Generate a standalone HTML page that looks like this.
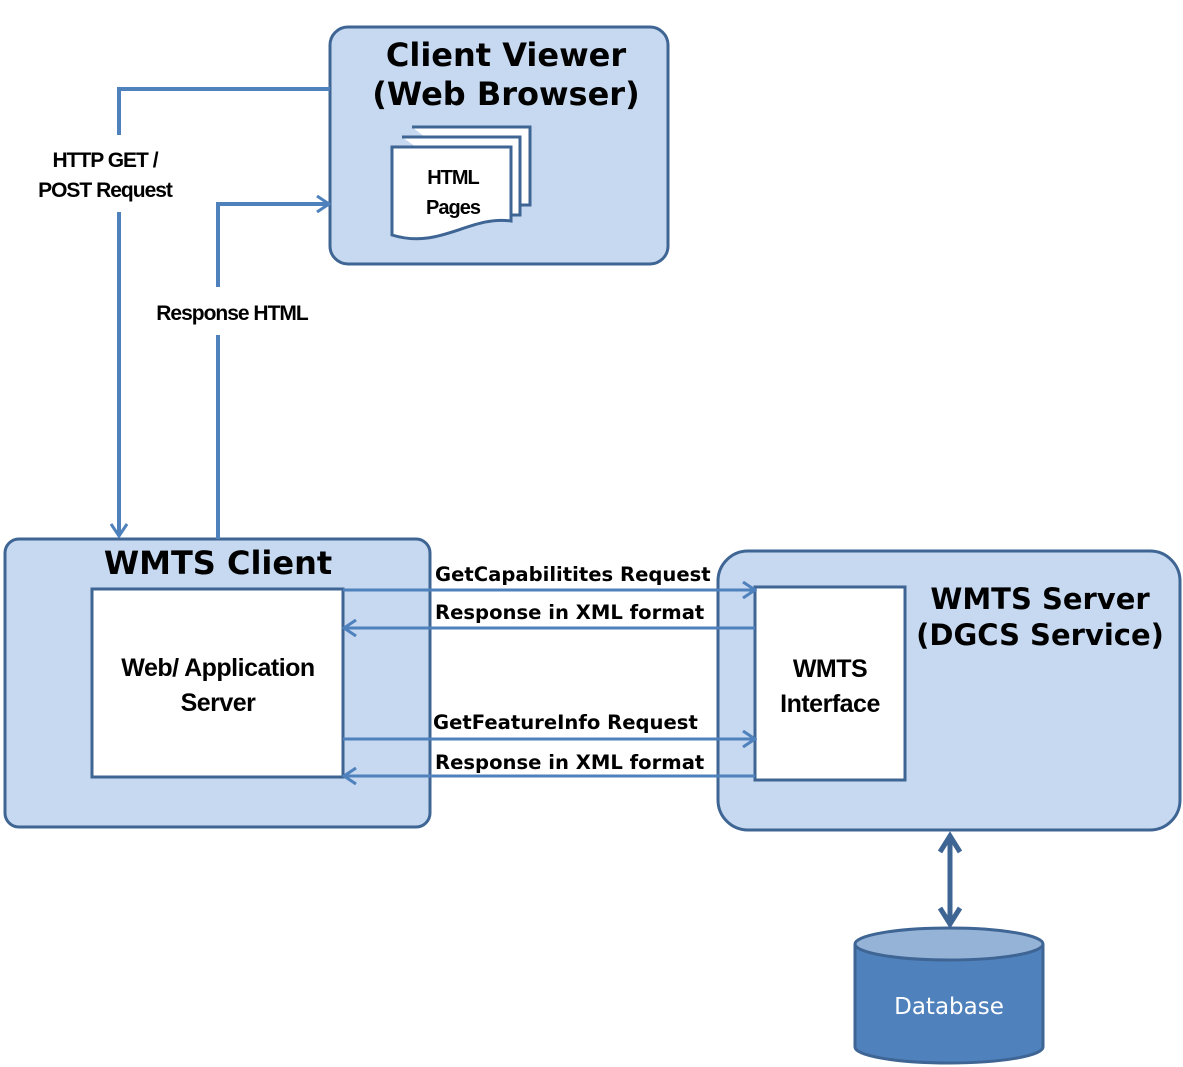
<!DOCTYPE html>
<html><head><style>body{margin:0;background:#fff}svg{display:block}</style></head><body>
<svg width="1183" height="1067" viewBox="0 0 1183 1067" xmlns="http://www.w3.org/2000/svg" font-family="'DejaVu Sans', Verdana, sans-serif">
<defs>
<marker id="a" markerWidth="16" markerHeight="18" refX="14" refY="9" orient="auto" markerUnits="userSpaceOnUse"><path d="M2,1 L14,9 L2,17" fill="none" stroke="#4f81bd" stroke-width="3"/></marker>
</defs>
<!-- boxes -->
<rect x="330" y="27" width="338" height="237" rx="18" fill="#c6d9f0" stroke="#3e6594" stroke-width="3"/>
<rect x="5" y="539" width="425" height="288" rx="14" fill="#c6d9f0" stroke="#3e6594" stroke-width="3"/>
<rect x="92" y="589" width="251" height="188" fill="#fff" stroke="#3e6594" stroke-width="3"/>
<rect x="718" y="551" width="462" height="279" rx="30" fill="#c6d9f0" stroke="#3e6594" stroke-width="3"/>
<rect x="755" y="587" width="150" height="193" fill="#fff" stroke="#3e6594" stroke-width="3"/>
<!-- html pages -->
<path d="M412,127 H530 V205 H512" fill="#fff" stroke="#3e6594" stroke-width="3"/>
<path d="M402,137 H520 V215 H512" fill="#fff" stroke="#3e6594" stroke-width="3"/>
<path d="M392,147 H511 V221 C470,215 440,250 392,235 Z" fill="#fff" stroke="#3e6594" stroke-width="3"/>
<text x="453" y="184" font-size="20" font-weight="bold" text-anchor="middle" font-family="'Liberation Sans',sans-serif" letter-spacing="-1">HTML</text>
<text x="453" y="214" font-size="20" font-weight="bold" text-anchor="middle" font-family="'Liberation Sans',sans-serif" letter-spacing="-1">Pages</text>
<!-- titles -->
<text x="506" y="66" font-size="32" font-weight="bold" text-anchor="middle">Client Viewer</text>
<text x="506" y="105" font-size="32" font-weight="bold" text-anchor="middle">(Web Browser)</text>
<text x="218" y="574" font-size="32" font-weight="bold" text-anchor="middle">WMTS Client</text>
<text x="1040" y="609" font-size="29" font-weight="bold" text-anchor="middle">WMTS Server</text>
<text x="1040" y="645" font-size="29" font-weight="bold" text-anchor="middle">(DGCS Service)</text>
<text x="218" y="676" font-size="25" font-weight="bold" text-anchor="middle" font-family="'Liberation Sans',sans-serif" letter-spacing="-0.5">Web/ Application</text>
<text x="218" y="711" font-size="25" font-weight="bold" text-anchor="middle" font-family="'Liberation Sans',sans-serif" letter-spacing="-0.5">Server</text>
<text x="830" y="677" font-size="25" font-weight="bold" text-anchor="middle" font-family="'Liberation Sans',sans-serif" letter-spacing="-0.5">WMTS</text>
<text x="830" y="712" font-size="25" font-weight="bold" text-anchor="middle" font-family="'Liberation Sans',sans-serif" letter-spacing="-0.5">Interface</text>
<!-- left connectors -->
<g stroke="#4f81bd" stroke-width="4" fill="none">
<path d="M330,89 H119 V135"/>
<path d="M119,212 V536" marker-end="url(#a)"/>
<path d="M218,539 V335"/>
<path d="M218,287 V204 H329" marker-end="url(#a)"/>
</g>
<text x="105" y="167" font-size="21" font-weight="bold" text-anchor="middle" font-family="'Liberation Sans',sans-serif" letter-spacing="-1">HTTP GET /</text>
<text x="105" y="197" font-size="21" font-weight="bold" text-anchor="middle" font-family="'Liberation Sans',sans-serif" letter-spacing="-1">POST Request</text>
<text x="232" y="320" font-size="21" font-weight="bold" text-anchor="middle" font-family="'Liberation Sans',sans-serif" letter-spacing="-1">Response HTML</text>
<!-- middle connectors -->
<g stroke="#4f81bd" stroke-width="3" fill="none">
<path d="M343,590 H755" marker-end="url(#a)"/>
<path d="M755,628 H344" marker-end="url(#a)"/>
<path d="M343,739 H755" marker-end="url(#a)"/>
<path d="M755,776 H344" marker-end="url(#a)"/>
</g>
<g font-size="19.6" font-weight="bold">
<text x="435" y="581">GetCapabilitites Request</text>
<text x="435" y="619">Response in XML format</text>
<text x="433" y="729">GetFeatureInfo Request</text>
<text x="435" y="769">Response in XML format</text>
</g>
<!-- db arrow -->
<g stroke="#3e6594" stroke-width="5" fill="none">
<path d="M950,838 V922"/>
<path d="M940,852 L950,836 L960,852"/>
<path d="M940,908 L950,924 L960,908"/>
</g>
<!-- database -->
<path d="M855,944 V1047 A94,16 0 0 0 1043,1047 V944" fill="#4f81bd" stroke="#3e6594" stroke-width="3"/>
<ellipse cx="949" cy="944" rx="94" ry="16" fill="#95b3d7" stroke="#3e6594" stroke-width="3"/>
<text x="949" y="1014" font-size="23" fill="#fff" text-anchor="middle" font-family="'DejaVu Sans',sans-serif">Database</text>
</svg>
</body></html>
